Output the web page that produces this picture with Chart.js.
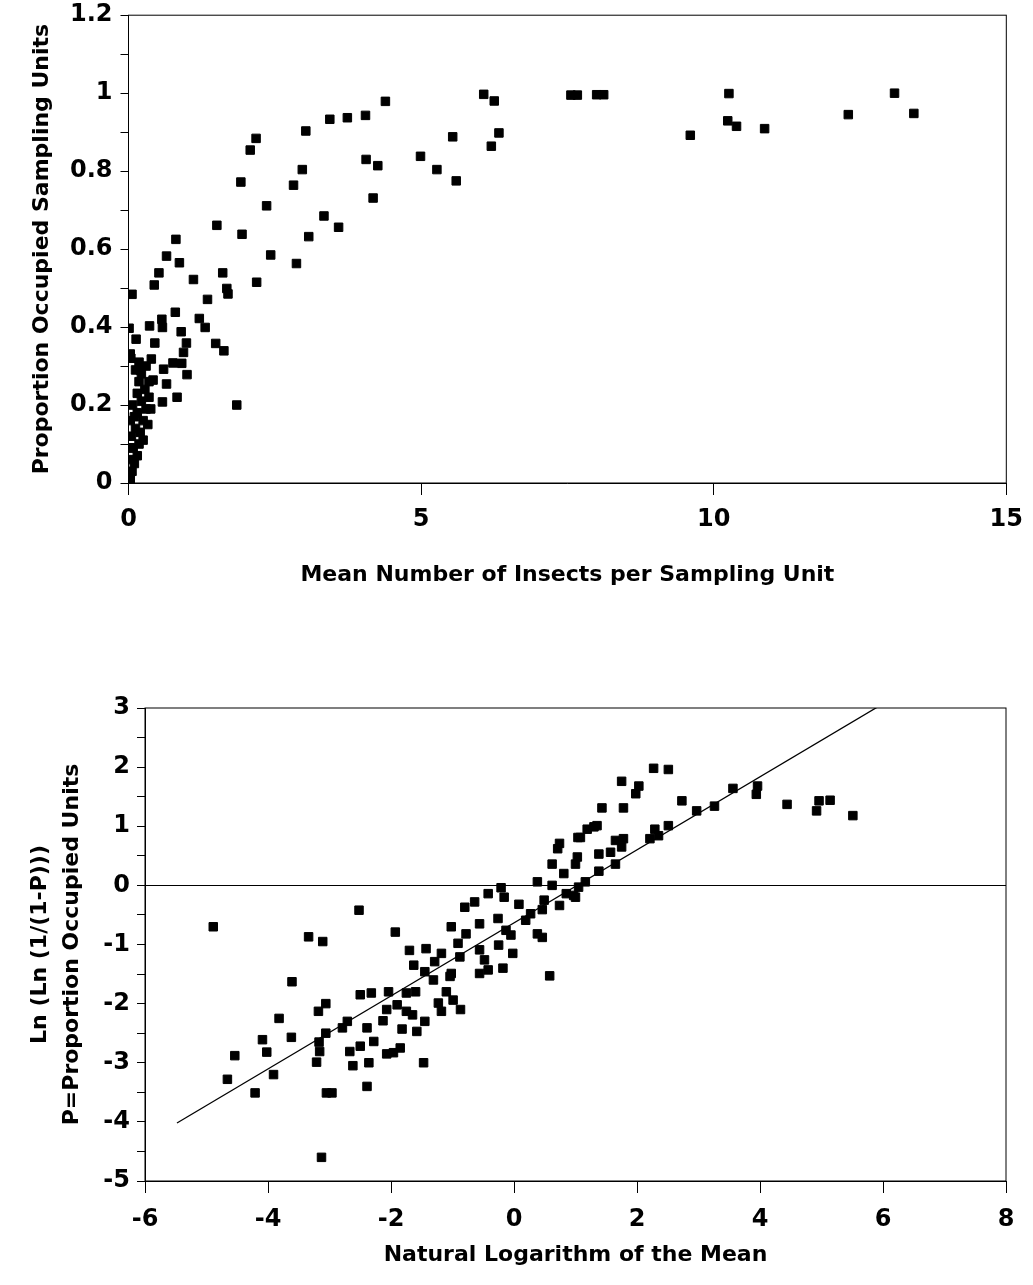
<!DOCTYPE html>
<html lang="en">
<head>
    <meta charset="UTF-8">
    <title>Proportion occupied vs mean density</title>
    <style>
        body {
            margin: 0;
            padding: 0;
            background: #fff;
        }
        .panel {
            position: absolute;
            left: 0;
        }
        #topPanel { top: 0; width: 1033px; height: 600px; }
        #bottomPanel { top: 620px; width: 1033px; height: 665px; }
    </style>
</head>
<body>
    <div class="panel" id="topPanel"><canvas id="propChart" width="1033" height="600"></canvas></div>
    <div class="panel" id="bottomPanel"><canvas id="logChart" width="1033" height="665"></canvas></div>

    <script src="https://cdn.jsdelivr.net/npm/chart.js"></script>
    <script>
        // upper panel: mean number per unit vs proportion occupied
        const meanX = [
            6.07, 6.25, 5.54, 6.33, 6.2, 4.99, 5.27, 5.6, 7.56, 7.67, 8.0, 8.12,
            10.26, 9.6, 10.24, 10.39, 10.87, 12.3, 13.09, 13.42,
            4.39, 3.44, 3.74, 4.05, 3.03, 2.18, 2.08, 4.06, 4.26, 2.97, 1.92, 2.82,
            4.18, 2.36, 3.34, 3.59, 1.51, 1.94, 3.08, 0.81, 0.65, 2.43, 0.87, 2.87,
            0.52, 1.61, 1.11, 0.44, 2.19, 0.06, 1.68, 1.70, 1.35, 0.80, 0.57, 0.36,
            0.58, 1.21, 1.31, 0.90, 0.01, 0.13, 0.45, 0.99, 1.49, 1.63, 0.94, 0.03,
            0.39, 0.76, 0.91, 0.60, 0.20, 1.0, 0.42, 0.65, 0.83, 0.58, 1.85,
            0.03, 0.06, 0.04, 0.1, 0.15, 0.08, 0.18, 0.05, 0.2, 0.12, 0.03, 0.25,
            0.33, 0.15, 0.3, 0.07, 0.22, 0.35, 0.15, 0.28, 0.18, 0.35, 0.22, 0.3,
            0.18, 0.12, 0.38, 0.1, 0.25, 0.02, 0.04
        ];
        const propOccupied = [
            0.997, 0.98, 0.888, 0.898, 0.864, 0.838, 0.804, 0.775, 0.995, 0.995, 0.996, 0.996,
            0.999, 0.892, 0.929, 0.915, 0.909, 0.945, 1.0, 0.948,
            0.979, 0.933, 0.937, 0.943, 0.903, 0.884, 0.854, 0.83, 0.814, 0.804, 0.772, 0.764,
            0.731, 0.711, 0.685, 0.656, 0.661, 0.638, 0.632, 0.625, 0.582, 0.585, 0.565, 0.563,
            0.539, 0.539, 0.522, 0.508, 0.515, 0.484, 0.499, 0.485, 0.471, 0.438, 0.42, 0.403,
            0.399, 0.422, 0.399, 0.388, 0.397, 0.369, 0.359, 0.359, 0.358, 0.339, 0.335, 0.331,
            0.318, 0.308, 0.307, 0.292, 0.29, 0.278, 0.264, 0.254, 0.22, 0.208, 0.20,
            0.01, 0.03, 0.06, 0.05, 0.07, 0.09, 0.1, 0.12, 0.13, 0.14, 0.16, 0.16,
            0.15, 0.18, 0.19, 0.2, 0.21, 0.22, 0.23, 0.24, 0.26, 0.26, 0.28, 0.3,
            0.31, 0.29, 0.19, 0.17, 0.11, 0.09, 0.32
        ];

        // lower panel: ln(mean) vs ln(ln(1/(1-P)))
        const lnMean = [
            -4.89, -2.52, -3.34, -3.11, -1.93, -3.61, -3.82, -4.54, -4.09, -4.02, -3.62, -4.66,
            -3.91, -4.21, -3.21, -3.16, -3.17, -3.06, -3.18, -3.06, -3.05, -2.96, -3.13, -2.39,
            -2.62, -2.36, -2.67, -2.5, -2.39, -2.28, -2.79, -2.71, -2.5, -2.32, -2.07, -1.96,
            -1.85, -1.82, -2.13, -2.04, -2.07, -1.9, -1.75, -1.6, -1.75, -1.65, -1.58, -1.45,
            -1.47, -1.7, -1.63, -1.43, -1.45, -1.31, -1.18, -1.29, -1.02, -1.04, -1.23, -1.1,
            -0.99, -0.87, -1.18, -1.02, -0.91, -0.88, -0.78, -0.8, -0.64, -0.56, -0.42, -0.21,
            -0.16, -0.26, -0.13, -0.25, -0.56, -0.48, -0.56, -0.42, -0.18, -0.02, -0.05, 0.08,
            0.19, 0.27, 0.38, 0.46, 0.58, 0.38, 0.49, 0.46, 0.62, 0.62, 0.74, 0.71,
            0.81, 0.74, 0.97, 1.0, 1.04,
            2.27, 2.51, 1.75, 2.03, 1.98, 1.43, 1.78, 2.73, 2.97, 3.26, 3.56, 3.96,
            3.94, 4.44, 4.96, 5.14, 4.92, 5.51, 1.19, 1.3, 1.35, 1.08, 1.65, 1.78,
            1.75, 2.29, 2.51, 2.21, 2.35, 1.38, 1.57, 1.65, 1.38, 1.03, 1.16, 1.05,
            1.0, 0.85
        ];
        const lnLnP = [
            -0.70, -0.42, -0.87, -0.95, -0.79, -1.63, -2.25, -2.88, -2.61, -2.82, -2.57, -3.28,
            -3.2, -3.51, -2.99, -2.81, -2.65, -2.5, -2.13, -2.0, -3.51, -3.51, -4.6, -3.40,
            -3.05, -3.0, -2.81, -2.72, -2.41, -2.64, -2.41, -2.3, -1.85, -1.82, -2.85, -2.83,
            -2.75, -2.43, -2.29, -1.80, -2.1, -2.02, -1.82, -1.8, -2.13, -2.19, -2.47, -2.3,
            -3.0, -1.1, -1.35, -1.07, -1.46, -1.6, -1.15, -1.29, -1.49, -1.54, -1.99, -1.8,
            -1.94, -2.1, -2.13, -0.7, -0.98, -1.21, -0.82, -0.37, -0.28, -0.65, -0.14, -0.04,
            -0.2, -0.56, -0.76, -1.01, -1.09, -1.26, -1.49, -1.43, -1.4, -1.15, -0.84, -0.32,
            -0.59, -0.48, -0.82, -0.88, -1.53, 0.06, -0.25, -0.41, 0.36, 0.0, 0.71, 0.62,
            0.2, -0.34, -0.17, 0.36, 0.81,
            1.98, 1.96, 1.76, 1.68, 1.55, 1.31, 1.31, 1.43, 1.26, 1.34, 1.64, 1.68,
            1.54, 1.37, 1.43, 1.44, 1.26, 1.18, 0.95, 0.99, 1.01, 0.81, 0.76, 0.79,
            0.65, 0.95, 1.01, 0.79, 0.84, 0.53, 0.56, 0.36, 0.24, 0.48, 0.06, -0.03,
            -0.2, -0.14
        ];
        // fitted regression line, end points
        const fitX = [-5.48, 5.9];
        const fitY = [-4.02, 3.01];

        Chart.defaults.font.family = "'DejaVu Sans', 'Comic Sans MS', sans-serif";
        Chart.defaults.font.weight = 'bold';
        Chart.defaults.color = '#000';

        const frame = {
            id: 'frame',
            afterDraw(chart) {
                const a = chart.chartArea;
                const ctx = chart.ctx;
                ctx.save();
                ctx.strokeStyle = '#000';
                ctx.lineWidth = 1;
                ctx.strokeRect(a.left, a.top, a.right - a.left, a.bottom - a.top);
                ctx.restore();
            }
        };

        const pts = (xs, ys) => xs.map((x, i) => ({ x: x, y: ys[i] }));
        const tickFont = { size: 24, weight: 'bold' };
        // y tick labels: small line height so the top label doesn't push the plot down
        const yTickFont = { size: 24, weight: 'bold', lineHeight: 0.6 };
        const titleFont = { size: 22, weight: 'bold' };

        new Chart(document.getElementById('propChart'), {
            type: 'scatter',
            data: {
                datasets: [{
                    data: pts(meanX, propOccupied),
                    pointStyle: 'rect',
                    pointRadius: 6,
                    backgroundColor: '#000',
                    borderColor: '#000',
                    borderWidth: 1,
                    clip: 0
                }]
            },
            options: {
                responsive: false,
                animation: false,
                layout: { padding: { left: 25, top: 15, right: 25, bottom: 8 } },
                plugins: { legend: { display: false }, tooltip: { enabled: false } },
                scales: {
                    x: {
                        min: 0, max: 15,
                        afterFit: s => { s.height = 109; },
                        border: { color: '#000', width: 1 },
                        grid: { drawOnChartArea: false, tickLength: 12, color: '#000' },
                        ticks: { stepSize: 5, padding: 10, font: tickFont, maxRotation: 0 },
                        title: { display: true, text: 'Mean Number of Insects per Sampling Unit', font: titleFont }
                    },
                    y: {
                        min: 0, max: 1.2,
                        afterFit: s => { s.width = 103.5; },
                        border: { color: '#000', width: 1 },
                        grid: { drawOnChartArea: false, tickLength: 8, color: '#000' },
                        ticks: {
                            stepSize: 0.1, padding: 8, font: yTickFont,
                            callback: v => (Math.round(v * 10) % 2 === 0 ? String(Math.round(v * 10) / 10) : '')
                        },
                        title: { display: true, text: 'Proportion Occupied Sampling Units', font: titleFont }
                    }
                }
            },
            plugins: [frame]
        });

        new Chart(document.getElementById('logChart'), {
            type: 'scatter',
            data: {
                datasets: [{
                    data: pts(lnMean, lnLnP),
                    pointStyle: 'rect',
                    pointRadius: 6,
                    backgroundColor: '#000',
                    borderColor: '#000',
                    borderWidth: 1,
                    clip: 0
                }, {
                    data: pts(fitX, fitY),
                    showLine: true,
                    pointRadius: 0,
                    borderColor: '#000',
                    borderWidth: 1.3,
                    clip: 0
                }]
            },
            options: {
                responsive: false,
                animation: false,
                layout: { padding: { left: 20, top: 88, right: 27, bottom: 13 } },
                plugins: { legend: { display: false }, tooltip: { enabled: false } },
                scales: {
                    x: {
                        min: -6, max: 8,
                        afterFit: s => { s.height = 91; },
                        border: { color: '#000', width: 1 },
                        grid: { drawOnChartArea: false, tickLength: 12, color: '#000' },
                        ticks: { stepSize: 2, padding: 12, font: tickFont, maxRotation: 0 },
                        title: { display: true, text: 'Natural Logarithm of the Mean', font: titleFont }
                    },
                    y: {
                        min: -5, max: 3,
                        afterFit: s => { s.width = 125; },
                        border: { color: '#000', width: 1 },
                        grid: {
                            tickLength: 8,
                            tickColor: '#000',
                            color: c => (c.tick && c.tick.value === 0 ? '#000' : 'rgba(0,0,0,0)')
                        },
                        ticks: {
                            stepSize: 0.5, padding: 7, font: yTickFont,
                            callback: v => (Number.isInteger(v) ? String(v) : '')
                        },
                        title: {
                            display: true,
                            text: ['Ln (Ln (1/(1-P)))', 'P=Proportion Occupied Units'],
                            font: { size: 22, weight: 'bold', lineHeight: 1.45 }
                        }
                    }
                }
            },
            plugins: [frame]
        });
    </script>
</body>
</html>
